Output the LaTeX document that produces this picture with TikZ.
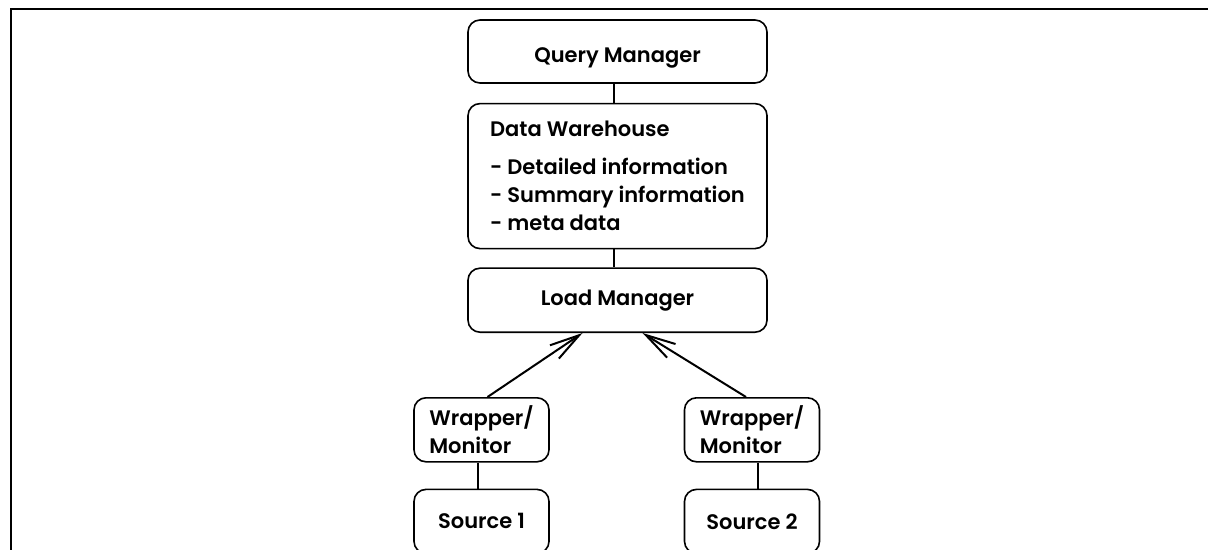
\documentclass[tikz,border=0pt]{standalone}
\usepackage{fontspec}
\setmainfont{Poppins}[UprightFont=* SemiBold]
\usetikzlibrary{arrows.meta, positioning}

\begin{document}
\begin{tikzpicture}[
  x=0.5pt, y=-0.5pt,
  font=\fontsize{10.5pt}{14pt}\selectfont,
  box/.style={rectangle, rounded corners=6pt, draw, line width=0.8pt, inner sep=0pt, align=left, minimum height=32pt},
  link/.style={line width=1pt},
  arrow/.style={-{Straight Barb[length=15pt,width=8pt]}, line width=1pt}
]
\useasboundingbox (0,0) rectangle (1208,550);

% frame
\draw[line width=1pt] (11,550) -- (11,9) -- (1208,9);

\node[box, minimum width=149.5pt, minimum height=31.5pt, text height=14pt, text depth=2.5pt] (qm) at (617.5,51.5) {Query Manager};
\node[box, minimum width=149.5pt, minimum height=72.5pt, below=9.5pt of qm] (dw) {Data Warehouse\\[5pt]- Detailed information\\- Summary information\\- meta data};
\node[box, minimum width=149.5pt, below=9pt of dw] (lm) {Load Manager};
\node[box, minimum width=67.5pt, below=32pt of lm, xshift=-68pt] (wrap1) {Wrapper/\\Monitor};
\node[box, minimum width=67.5pt, below=32pt of lm, xshift=67.25pt] (wrap2) {Wrapper/\\Monitor};
\node[box, minimum width=67.5pt, below=13pt of wrap1] (src1) {Source 1};
\node[box, minimum width=67.5pt, below=13pt of wrap2] (src2) {Source 2};

\draw[link] ([xshift=-2pt]qm.south) -- ([xshift=-2pt]dw.north);
\draw[link] ([xshift=-2pt]dw.south) -- ([xshift=-2pt]lm.north);
\draw[link] ([xshift=-2pt]wrap1.south) -- ([xshift=-2pt]src1.north);
\draw[link] ([xshift=3pt]wrap2.south) -- ([xshift=3pt]src2.north);
\draw[arrow] ([xshift=3pt]wrap1.north) -- ([xshift=-17.5pt]lm.south);
\draw[arrow] ([xshift=-3pt]wrap2.north) -- ([xshift=12.5pt]lm.south);

\end{tikzpicture}
\end{document}
